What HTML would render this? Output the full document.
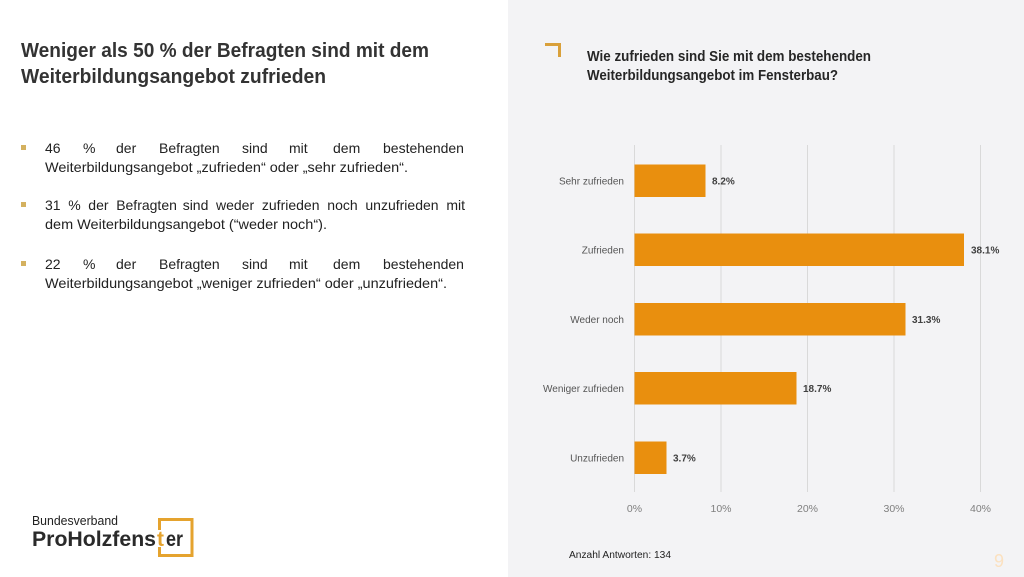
<!DOCTYPE html>
<html>
<head>
<meta charset="utf-8">
<style>
html,body{margin:0;padding:0;background:#fff;}
svg{display:block;font-family:"Liberation Sans",Arial,sans-serif;}
</style>
</head>
<body>
<svg width="1024" height="577" viewBox="0 0 1024 577" xmlns="http://www.w3.org/2000/svg">
  <rect x="0" y="0" width="1024" height="577" fill="#ffffff"/>
  <rect x="508" y="0" width="516" height="577" fill="#f3f3f5"/>

  <!-- Left title -->
  <text x="21" y="57" font-size="20" font-weight="bold" fill="#333333" textLength="408" lengthAdjust="spacingAndGlyphs">Weniger als 50 % der Befragten sind mit dem</text>
  <text x="21" y="83" font-size="20" font-weight="bold" fill="#333333" textLength="305" lengthAdjust="spacingAndGlyphs">Weiterbildungsangebot zufrieden</text>

  <!-- Bullets -->
  <rect x="21" y="145" width="5" height="5" fill="#d4b15f"/>
  <rect x="21" y="202" width="5" height="5" fill="#d4b15f"/>
  <rect x="21" y="261" width="5" height="5" fill="#d4b15f"/>

  <g font-size="14" fill="#222222">
    <!-- Para 1 -->
    <text y="153"><tspan x="45">46</tspan><tspan x="83">%</tspan><tspan x="116">der</tspan><tspan x="159">Befragten</tspan><tspan x="242">sind</tspan><tspan x="289">mit</tspan><tspan x="333">dem</tspan><tspan x="383">bestehenden</tspan></text>
    <text x="45" y="172" textLength="363" lengthAdjust="spacingAndGlyphs">Weiterbildungsangebot „zufrieden“ oder „sehr zufrieden“.</text>
    <!-- Para 2 -->
    <text y="210"><tspan x="45">31</tspan><tspan x="68.3">%</tspan><tspan x="88.3">der</tspan><tspan x="116.2">Befragten</tspan><tspan x="182.7">sind</tspan><tspan x="216">weder</tspan><tspan x="261.9">zufrieden</tspan><tspan x="327.3">noch</tspan><tspan x="365.4">unzufrieden</tspan></text>
    <text x="465" y="210" text-anchor="end">mit</text>
    <text x="45" y="229" textLength="282" lengthAdjust="spacingAndGlyphs">dem Weiterbildungsangebot (“weder noch“).</text>
    <!-- Para 3 -->
    <text y="269"><tspan x="45">22</tspan><tspan x="83">%</tspan><tspan x="116">der</tspan><tspan x="159">Befragten</tspan><tspan x="242">sind</tspan><tspan x="289">mit</tspan><tspan x="333">dem</tspan><tspan x="383">bestehenden</tspan></text>
    <text x="45" y="288" textLength="402" lengthAdjust="spacingAndGlyphs">Weiterbildungsangebot „weniger zufrieden“ oder „unzufrieden“.</text>
  </g>

  <!-- Logo -->
  <text x="32" y="525" font-size="12.5" fill="#222222" textLength="86" lengthAdjust="spacingAndGlyphs">Bundesverband</text>
  <text x="32" y="546" font-size="21" font-weight="bold" fill="#2a2a2a" textLength="124" lengthAdjust="spacingAndGlyphs">ProHolzfens</text>
  <text x="157" y="546" font-size="21" font-weight="bold" fill="#e5a32e">t</text>
  <text x="166" y="546" font-size="21" font-weight="bold" fill="#2a2a2a" textLength="17" lengthAdjust="spacingAndGlyphs">er</text>
  <g stroke="#e5a32e" stroke-width="3" fill="none">
    <polyline points="159.5,530 159.5,519.5 192,519.5 192,555.5 159.5,555.5 159.5,547"/>
  </g>

  <!-- Chart title -->
  <polyline points="545,44.5 559.5,44.5 559.5,57" stroke="#d9a03a" stroke-width="3" fill="none"/>
  <text x="587" y="61" font-size="14.5" font-weight="bold" fill="#262626" textLength="284" lengthAdjust="spacingAndGlyphs">Wie zufrieden sind Sie mit dem bestehenden</text>
  <text x="587" y="80" font-size="14.5" font-weight="bold" fill="#262626" textLength="251" lengthAdjust="spacingAndGlyphs">Weiterbildungsangebot im Fensterbau?</text>

  <!-- Gridlines -->
  <g stroke="#d9d9d9" stroke-width="1">
    <line x1="634.5" y1="145" x2="634.5" y2="492"/>
    <line x1="721" y1="145" x2="721" y2="492"/>
    <line x1="807.5" y1="145" x2="807.5" y2="492"/>
    <line x1="894" y1="145" x2="894" y2="492"/>
    <line x1="980.5" y1="145" x2="980.5" y2="492"/>
  </g>

  <!-- Bars -->
  <g fill="#e98f0e">
    <rect x="634.5" y="164.5" width="71" height="32.5"/>
    <rect x="634.5" y="233.5" width="329.5" height="32.5"/>
    <rect x="634.5" y="303" width="271" height="32.5"/>
    <rect x="634.5" y="372" width="162" height="32.5"/>
    <rect x="634.5" y="441.5" width="32" height="32.5"/>
  </g>

  <!-- Category labels -->
  <g font-size="10" fill="#555555" text-anchor="end">
    <text x="624" y="184.5">Sehr zufrieden</text>
    <text x="624" y="253.5">Zufrieden</text>
    <text x="624" y="323">Weder noch</text>
    <text x="624" y="392">Weniger zufrieden</text>
    <text x="624" y="461.5">Unzufrieden</text>
  </g>

  <!-- Value labels -->
  <g font-size="10" font-weight="bold" fill="#404040">
    <text x="712" y="184.5">8.2%</text>
    <text x="971" y="253.5">38.1%</text>
    <text x="912" y="323">31.3%</text>
    <text x="803" y="392">18.7%</text>
    <text x="673" y="461.5">3.7%</text>
  </g>

  <!-- Tick labels -->
  <g font-size="10.5" fill="#7f7f7f" text-anchor="middle">
    <text x="634.5" y="512">0%</text>
    <text x="721" y="512">10%</text>
    <text x="807.5" y="512">20%</text>
    <text x="894" y="512">30%</text>
    <text x="980.5" y="512">40%</text>
  </g>

  <text x="569" y="558" font-size="10" fill="#222222" textLength="102" lengthAdjust="spacingAndGlyphs">Anzahl Antworten: 134</text>

  <text x="994" y="567" font-size="18" fill="#fbe1c0">9</text>
</svg>
</body>
</html>
